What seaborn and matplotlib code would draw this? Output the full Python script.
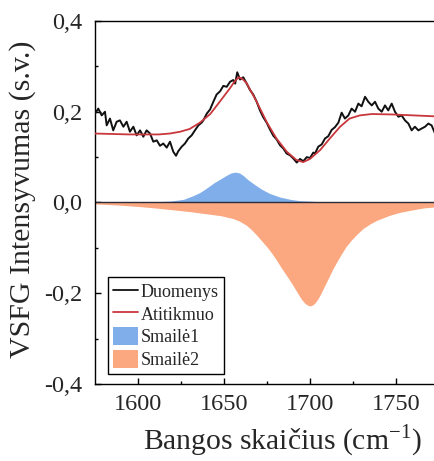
import matplotlib
matplotlib.use("Agg")
import matplotlib.pyplot as plt
import seaborn as sns
import pandas as pd
from matplotlib.patches import Patch
from matplotlib.lines import Line2D

# Measured VSFG spectrum (wavenumber, intensity)
data_x = [1575.0, 1576.9, 1578.9, 1580.8, 1581.8, 1583.7, 1585.6, 1587.6, 1589.5, 1591.5,
          1593.4, 1595.3, 1597.3, 1599.2, 1601.2, 1603.1, 1605.0, 1607.0, 1608.9, 1610.9,
          1612.8, 1614.7, 1616.7, 1618.6, 1620.5, 1622.1, 1623.4, 1625.4, 1627.3, 1629.2,
          1631.2, 1633.1, 1635.1, 1637.0, 1638.0, 1640.0, 1641.9, 1643.8, 1645.7, 1647.7,
          1649.6, 1651.6, 1653.5, 1655.4, 1656.5, 1657.7, 1659.3, 1661.2, 1663.2, 1665.1,
          1667.0, 1669.0, 1670.9, 1672.8, 1674.8, 1676.7, 1678.7, 1680.6, 1682.6, 1684.5,
          1686.4, 1688.4, 1690.3, 1692.3, 1694.2, 1696.1, 1698.1, 1700.0, 1701.9, 1702.9,
          1704.8, 1706.8, 1708.7, 1710.6, 1712.6, 1714.5, 1716.5, 1718.4, 1720.3, 1722.3,
          1724.2, 1726.2, 1728.1, 1730.0, 1732.0, 1733.9, 1735.9, 1737.8, 1739.7, 1741.7,
          1743.6, 1745.5, 1747.5, 1749.4, 1751.4, 1753.3, 1755.2, 1757.2, 1759.1, 1761.0,
          1763.0, 1764.9, 1766.9, 1768.8, 1770.7, 1772.7, 1775.0]
data_y = [0.196, 0.207, 0.192, 0.200, 0.170, 0.185, 0.159, 0.178, 0.181, 0.167,
          0.178, 0.156, 0.167, 0.148, 0.159, 0.145, 0.159, 0.152, 0.134, 0.137,
          0.125, 0.130, 0.121, 0.134, 0.112, 0.103, 0.113, 0.123, 0.130, 0.141,
          0.148, 0.159, 0.170, 0.176, 0.181, 0.196, 0.205, 0.222, 0.238, 0.245,
          0.257, 0.255, 0.266, 0.270, 0.262, 0.287, 0.271, 0.276, 0.262, 0.248,
          0.238, 0.222, 0.203, 0.188, 0.176, 0.161, 0.147, 0.139, 0.126, 0.119,
          0.108, 0.104, 0.097, 0.088, 0.096, 0.091, 0.100, 0.098, 0.110, 0.108,
          0.123, 0.128, 0.141, 0.146, 0.160, 0.166, 0.176, 0.198, 0.185, 0.192,
          0.207, 0.200, 0.218, 0.212, 0.233, 0.222, 0.214, 0.222, 0.207, 0.200,
          0.214, 0.203, 0.218, 0.200, 0.189, 0.192, 0.181, 0.174, 0.159, 0.167,
          0.159, 0.163, 0.167, 0.174, 0.170, 0.152, 0.160]

# Fitted model curve
fit_x = [1575, 1585, 1595, 1605, 1612, 1618.5, 1624.5, 1630, 1636, 1642, 1647.5, 1653.5,
         1656, 1658.5, 1660.5, 1663, 1669, 1675, 1680.5, 1686.5, 1692, 1696, 1700, 1706,
         1711.5, 1717.5, 1723, 1729, 1736, 1748, 1760, 1772, 1800]
fit_y = [0.152, 0.151, 0.150, 0.150, 0.150, 0.152, 0.156, 0.162, 0.176, 0.195, 0.222, 0.252,
         0.266, 0.276, 0.273, 0.264, 0.222, 0.176, 0.141, 0.112, 0.094, 0.089, 0.096, 0.116,
         0.141, 0.167, 0.185, 0.192, 0.195, 0.194, 0.192, 0.190, 0.186]

# Resonance 1 (positive band)
peak1_x = [1575, 1600, 1610, 1618.5, 1626.5, 1632, 1636, 1640, 1644, 1648, 1651.5, 1654,
           1656.5, 1659, 1661, 1664, 1668, 1672, 1676.5, 1682.5, 1688.5, 1694, 1700, 1710,
           1720, 1800]
peak1_y = [0.000, 0.001, 0.002, 0.003, 0.007, 0.015, 0.022, 0.032, 0.043, 0.052, 0.060, 0.065,
           0.067, 0.065, 0.060, 0.050, 0.039, 0.029, 0.020, 0.012, 0.007, 0.004, 0.003, 0.001,
           0.0005, 0.0]

# Resonance 2 (negative band)
peak2_x = [1575, 1590, 1601, 1610, 1620, 1630, 1640, 1648, 1655, 1659, 1663, 1666, 1669,
           1672, 1675, 1678, 1680.5, 1683, 1685.5, 1689.5, 1693, 1695, 1697, 1698.5, 1700,
           1701.5, 1703, 1704.5, 1706, 1709.5, 1713.5, 1716, 1718.5, 1721, 1724, 1727.5,
           1731, 1735, 1739, 1746.5, 1752, 1760, 1766, 1775, 1800]
peak2_y = [-0.003, -0.006, -0.009, -0.012, -0.016, -0.020, -0.025, -0.029, -0.035, -0.041,
           -0.050, -0.060, -0.072, -0.085, -0.098, -0.113, -0.127, -0.142, -0.156, -0.179,
           -0.201, -0.213, -0.222, -0.226, -0.228, -0.226, -0.221, -0.213, -0.203, -0.176,
           -0.145, -0.128, -0.112, -0.097, -0.083, -0.069, -0.057, -0.047, -0.039, -0.028,
           -0.022, -0.016, -0.012, -0.009, -0.005]

series_labels = ["Duomenys", "Atitikmuo", "Smailė1", "Smailė2"]
x_ticks = [1600, 1650, 1700, 1750]
x_ticklabels = ["1600", "1650", "1700", "1750"]
y_ticks = [-0.4, -0.2, 0.0, 0.2, 0.4]
y_ticklabels = ["-0,4", "-0,2", "0,0", "0,2", "0,4"]

sns.set_style("ticks")
plt.rcParams["font.family"] = ["Liberation Serif", "DejaVu Serif"]
plt.rcParams["mathtext.fontset"] = "custom"
plt.rcParams["mathtext.rm"] = "Liberation Serif"

c_data = "#111111"
c_fit = "#C9373C"
c_p1 = "#80AEEA"
c_p2 = "#FBA880"

fig = plt.figure(figsize=(4.35, 4.61), dpi=100)
ax = fig.add_axes([95 / 435, 77 / 461, 387 / 435, 363 / 461])

ax.fill_between(peak1_x, peak1_y, 0, color=c_p1, lw=0, zorder=1)
ax.fill_between(peak2_x, peak2_y, 0, color=c_p2, lw=0, zorder=1)
ax.axhline(0, color="#2b2b3a", lw=1.0, zorder=2)

df_data = pd.DataFrame({"x": data_x, "y": data_y})
df_fit = pd.DataFrame({"x": fit_x, "y": fit_y})
sns.lineplot(data=df_data, x="x", y="y", ax=ax, color=c_data, lw=1.4,
             estimator=None, sort=False, zorder=3)
sns.lineplot(data=df_fit, x="x", y="y", ax=ax, color=c_fit, lw=1.3,
             estimator=None, sort=False, zorder=4)

ax.set_xlim(1575, 1800)
ax.set_ylim(-0.4, 0.4)
ax.set_xticks(x_ticks)
ax.set_xticklabels(x_ticklabels)
ax.set_yticks(y_ticks)
ax.set_yticklabels(y_ticklabels)
ax.set_xticks([1625, 1675, 1725, 1775], minor=True)
ax.set_yticks([-0.3, -0.1, 0.1, 0.3], minor=True)
ax.tick_params(which="both", direction="in", width=1.0, color="black",
               labelsize=17.5, top=False, right=False)
ax.tick_params(which="major", length=4.5)
ax.tick_params(axis="x", which="major", pad=7)
ax.tick_params(axis="y", which="major", pad=9)
ax.tick_params(which="minor", length=2.5)
for s in ax.spines.values():
    s.set_linewidth(1.0)
    s.set_color("black")

ax.set_xlabel("Bangos skaičius (cm$^{\\mathregular{-1}}$)", fontsize=21.3)
ax.set_ylabel("VSFG Intensyvumas (s.v.)", fontsize=21.5)
ax.xaxis.set_label_coords((282 - 95) / 387, -0.108)
ax.yaxis.set_label_coords(-0.152, 0.51)

handles = [
    Line2D([], [], color=c_data, lw=1.3),
    Line2D([], [], color=c_fit, lw=1.3),
    Patch(facecolor=c_p1, edgecolor="none"),
    Patch(facecolor=c_p2, edgecolor="none"),
]
leg = ax.legend(handles, series_labels, loc="lower left",
                bbox_to_anchor=(0.034, 0.027), borderaxespad=0,
                fontsize=13, handlelength=1.4, handleheight=1.15,
                handletextpad=0.12, labelspacing=0.2, borderpad=0.28,
                fancybox=False, framealpha=1, edgecolor="black")
leg.get_frame().set_linewidth(1.0)

fig.savefig("out.png", dpi=100)
